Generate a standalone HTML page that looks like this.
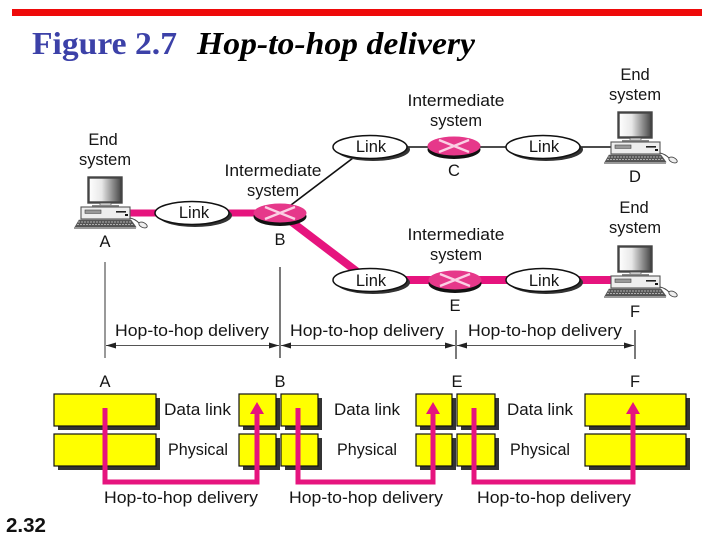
<!DOCTYPE html>
<html>
<head>
<meta charset="utf-8">
<style>
html,body{margin:0;padding:0;background:#fff;}
svg{display:block;}
.t{font-family:"Liberation Sans",sans-serif;font-size:16.5px;fill:#151515;}
.m{text-anchor:middle;}
</style>
</head>
<body>
<svg width="720" height="540" viewBox="0 0 720 540" xmlns="http://www.w3.org/2000/svg">
<defs>
<linearGradient id="scr" x1="0" x2="1" y1="0" y2="0">
<stop offset="0" stop-color="#fff"/><stop offset="0.4" stop-color="#e8e8e8"/><stop offset="1" stop-color="#444"/>
</linearGradient>
<g id="pc">
<rect x="88.5" y="177.5" width="33" height="25" fill="url(#scr)" stroke="#444" stroke-width="2.4"/>
<rect x="100" y="203" width="11" height="3" fill="#ccc" stroke="#555" stroke-width="0.7"/>
<rect x="92" y="205" width="27" height="2" fill="#888"/>
<rect x="81" y="207" width="49" height="12" fill="#eee" stroke="#555" stroke-width="1.1"/>
<rect x="85" y="210" width="16" height="3.4" fill="#999" stroke="#444" stroke-width="0.6"/>
<rect x="116" y="211" width="10" height="1.6" fill="#222"/>
<rect x="125" y="214" width="3" height="2" fill="#111"/>
<polygon points="79,220 131,220 136,227 75,227" fill="#555" stroke="#555" stroke-width="0.6"/>
<path d="M78 222H132M77 224.500H134" stroke="#ccc" stroke-width="0.8" stroke-dasharray="2 1"/>
<rect x="74" y="227" width="62" height="2" fill="#999"/>
<path d="M130 218Q135 219 139 223" stroke="#444" stroke-width="0.9" fill="none"/>
<ellipse cx="143" cy="225" rx="4.5" ry="2.5" fill="#eee" stroke="#444" stroke-width="0.9" transform="rotate(25 143 225)"/>
</g>
<g id="lnk">
<ellipse cx="3" cy="2.500" rx="37" ry="11.500" fill="#333"/>
<ellipse cx="0" cy="0" rx="37" ry="11.500" fill="#fff" stroke="#111" stroke-width="1.5"/>
</g>
<g id="rt">
<ellipse cx="0" cy="3.500" rx="26.500" ry="9.500" fill="#111"/>
<ellipse cx="0" cy="0" rx="26.500" ry="9.500" fill="#e6388a"/>
<path d="M-15 -6L15 6M-15 6L15 -6" stroke="#fbd0e4" stroke-width="2.4"/>
</g>
</defs>

<rect x="12" y="9" width="690" height="7" fill="#ee0a0a"/>
<text x="32" y="54" font-family="'Liberation Serif',serif" font-weight="bold" font-size="32" fill="#3c41a8" textLength="145" lengthAdjust="spacingAndGlyphs">Figure 2.7</text>
<text x="197" y="54" font-family="'Liberation Serif',serif" font-weight="bold" font-style="italic" font-size="32" fill="#000" textLength="278" lengthAdjust="spacingAndGlyphs">Hop-to-hop delivery</text>

<!-- connectors -->
<path d="M128 213H280" stroke="#e6147e" stroke-width="7" fill="none"/>
<path d="M280 213L368 280H620" stroke="#e6147e" stroke-width="8" fill="none"/>
<path d="M291 205L353 158" stroke="#111" stroke-width="1.7" fill="none"/>
<path d="M370 147H620" stroke="#111" stroke-width="1.5" fill="none"/>

<!-- computers -->
<use href="#pc"/>
<use href="#pc" transform="translate(530,-65)"/>
<use href="#pc" transform="translate(530,69)"/>

<use href="#lnk" transform="translate(192,213)"/>
<use href="#lnk" transform="translate(370,147)"/>
<use href="#lnk" transform="translate(370,280)"/>
<use href="#lnk" transform="translate(543,147)"/>
<use href="#lnk" transform="translate(543,280)"/>
<use href="#rt" transform="translate(280,213)"/>
<use href="#rt" transform="translate(454,146)"/>
<use href="#rt" transform="translate(455,280)"/>

<g class="t">
<text x="103" y="145" class="m">End</text>
<text x="105" y="165" class="m" textLength="52" lengthAdjust="spacingAndGlyphs">system</text>
<text x="105" y="247" class="m">A</text>
<text x="194" y="218" class="m">Link</text>
<text x="273" y="176" class="m" textLength="97" lengthAdjust="spacingAndGlyphs">Intermediate</text>
<text x="273" y="196" class="m" textLength="52" lengthAdjust="spacingAndGlyphs">system</text>
<text x="280" y="245" class="m">B</text>
<text x="371" y="152" class="m">Link</text>
<text x="371" y="286" class="m">Link</text>
<text x="544" y="152" class="m">Link</text>
<text x="544" y="286" class="m">Link</text>
<text x="456" y="106" class="m" textLength="97" lengthAdjust="spacingAndGlyphs">Intermediate</text>
<text x="456" y="126" class="m" textLength="52" lengthAdjust="spacingAndGlyphs">system</text>
<text x="456" y="240" class="m" textLength="97" lengthAdjust="spacingAndGlyphs">Intermediate</text>
<text x="456" y="260" class="m" textLength="52" lengthAdjust="spacingAndGlyphs">system</text>
<text x="454" y="176" class="m">C</text>
<text x="455" y="311" class="m">E</text>
<text x="635" y="80" class="m">End</text>
<text x="635" y="100" class="m" textLength="52" lengthAdjust="spacingAndGlyphs">system</text>
<text x="635" y="182" class="m">D</text>
<text x="634" y="213" class="m">End</text>
<text x="635" y="233" class="m" textLength="52" lengthAdjust="spacingAndGlyphs">system</text>
<text x="635" y="317" class="m">F</text>

<text x="115" y="336" textLength="154" lengthAdjust="spacingAndGlyphs">Hop-to-hop delivery</text>
<text x="290" y="336" textLength="154" lengthAdjust="spacingAndGlyphs">Hop-to-hop delivery</text>
<text x="468" y="336" textLength="154" lengthAdjust="spacingAndGlyphs">Hop-to-hop delivery</text>

<text x="105" y="387" class="m">A</text>
<text x="280" y="387" class="m">B</text>
<text x="457" y="387" class="m">E</text>
<text x="635" y="387" class="m">F</text>

<text x="164" y="415" textLength="67" lengthAdjust="spacingAndGlyphs">Data link</text>
<text x="168" y="455" textLength="60" lengthAdjust="spacingAndGlyphs">Physical</text>
<text x="334" y="415" textLength="66" lengthAdjust="spacingAndGlyphs">Data link</text>
<text x="337" y="455" textLength="60" lengthAdjust="spacingAndGlyphs">Physical</text>
<text x="507" y="415" textLength="66" lengthAdjust="spacingAndGlyphs">Data link</text>
<text x="510" y="455" textLength="60" lengthAdjust="spacingAndGlyphs">Physical</text>

<text x="104" y="503" textLength="154" lengthAdjust="spacingAndGlyphs">Hop-to-hop delivery</text>
<text x="289" y="503" textLength="154" lengthAdjust="spacingAndGlyphs">Hop-to-hop delivery</text>
<text x="477" y="503" textLength="154" lengthAdjust="spacingAndGlyphs">Hop-to-hop delivery</text>
</g>

<!-- dimension lines -->
<g stroke="#555" fill="none" stroke-width="1.2">
<path d="M105 262V358"/>
<path d="M280 267V358" stroke="#222"/>
<path d="M456 330V359" stroke="#222"/>
<path d="M635 330V359" stroke="#222"/>
<path d="M106 345.500H279M281 345.500H455M457 345.500H634" stroke-width="1"/>
</g>
<g fill="#222">
<polygon points="106,345.500 116,342.500 116,348.500"/>
<polygon points="279,345.500 269,342.500 269,348.500"/>
<polygon points="281,345.500 291,342.500 291,348.500"/>
<polygon points="455,345.500 445,342.500 445,348.500"/>
<polygon points="457,345.500 467,342.500 467,348.500"/>
<polygon points="634,345.500 624,342.500 624,348.500"/>
</g>

<!-- protocol boxes -->
<g fill="#333">
<rect x="58" y="398" width="102" height="32"/><rect x="58" y="438" width="102" height="32"/>
<rect x="243" y="398" width="37" height="32"/><rect x="243" y="438" width="37" height="32"/>
<rect x="285" y="398" width="37" height="32"/><rect x="285" y="438" width="37" height="32"/>
<rect x="420" y="398" width="36" height="32"/><rect x="420" y="438" width="36" height="32"/>
<rect x="461" y="398" width="38" height="32"/><rect x="461" y="438" width="38" height="32"/>
<rect x="589" y="398" width="101" height="32"/><rect x="589" y="438" width="101" height="32"/>
</g>
<g fill="#ffff00" stroke="#111" stroke-width="1.2">
<rect x="54" y="394" width="102" height="32"/><rect x="54" y="434" width="102" height="32"/>
<rect x="239" y="394" width="37" height="32"/><rect x="239" y="434" width="37" height="32"/>
<rect x="281" y="394" width="37" height="32"/><rect x="281" y="434" width="37" height="32"/>
<rect x="416" y="394" width="36" height="32"/><rect x="416" y="434" width="36" height="32"/>
<rect x="457" y="394" width="38" height="32"/><rect x="457" y="434" width="38" height="32"/>
<rect x="585" y="394" width="101" height="32"/><rect x="585" y="434" width="101" height="32"/>
</g>

<!-- delivery paths -->
<g stroke="#e6147e" stroke-width="5" fill="none">
<path d="M105 408V482H257V412"/>
<path d="M298 408V482H433V412"/>
<path d="M474 408V482H633V412"/>
</g>
<g fill="#e6147e">
<polygon points="257,402 250,414 264,414"/>
<polygon points="433,402 426,414 440,414"/>
<polygon points="633,402 626,414 640,414"/>
</g>

<text x="6" y="532" font-family="'Liberation Sans',sans-serif" font-weight="bold" font-size="20" fill="#111" textLength="40" lengthAdjust="spacingAndGlyphs">2.32</text>
</svg>
</body>
</html>
